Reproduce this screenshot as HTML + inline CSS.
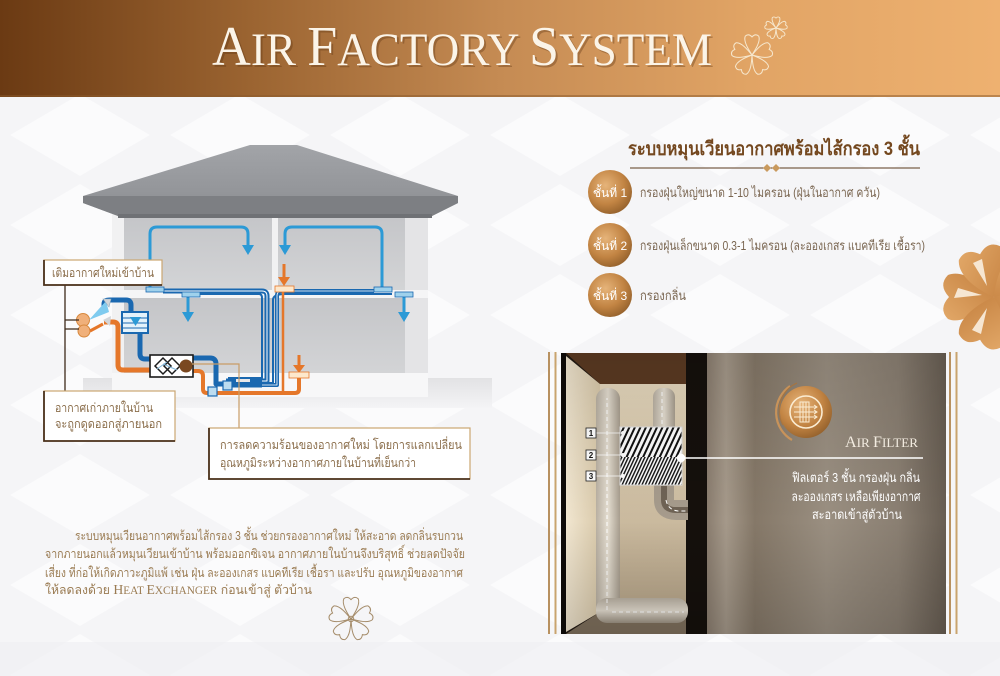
<!DOCTYPE html>
<html><head><meta charset="utf-8"><style>
html,body{margin:0;padding:0;background:#f6f6f8;}
svg{display:block;}
.th{font-family:"Liberation Sans","DejaVu Sans","Noto Sans CJK SC",sans-serif;}
.sf{font-family:"Liberation Serif","DejaVu Serif",serif;}
</style></head><body>
<svg width="1000" height="676" viewBox="0 0 1000 676" xmlns="http://www.w3.org/2000/svg">
<defs>
<linearGradient id="hdr" x1="0" x2="1" y1="0" y2="0">
<stop offset="0" stop-color="#6b3a13"/><stop offset="0.25" stop-color="#9b6431"/>
<stop offset="0.5" stop-color="#c58b53"/><stop offset="0.75" stop-color="#e1a465"/>
<stop offset="1" stop-color="#eeb170"/></linearGradient>
<linearGradient id="roof" x1="0" x2="0" y1="0" y2="1"><stop offset="0" stop-color="#a2a4a8"/><stop offset="1" stop-color="#8c8e92"/></linearGradient>
<linearGradient id="room" x1="0" x2="0" y1="0" y2="1"><stop offset="0" stop-color="#c4c5c8"/><stop offset="1" stop-color="#d3d4d6"/></linearGradient>
<linearGradient id="ground" x1="0" x2="0" y1="0" y2="1"><stop offset="0" stop-color="#e2e2e4"/><stop offset="1" stop-color="#f4f4f6"/></linearGradient>
<radialGradient id="gold" cx="0.4" cy="0.35" r="0.7"><stop offset="0" stop-color="#e6b47a"/><stop offset="0.6" stop-color="#c28443"/><stop offset="1" stop-color="#93602b"/></radialGradient>
<linearGradient id="flw" x1="0" x2="1" y1="0" y2="1"><stop offset="0" stop-color="#e2a868"/><stop offset="1" stop-color="#c4803f"/></linearGradient>
<linearGradient id="photoR" x1="0" x2="1" y1="0" y2="0">
<stop offset="0" stop-color="#8a7d6f"/><stop offset="0.08" stop-color="#a5998a"/><stop offset="0.2" stop-color="#857868"/>
<stop offset="0.5" stop-color="#9a8f81"/><stop offset="0.8" stop-color="#8a7f72"/><stop offset="1" stop-color="#675d52"/></linearGradient>
<linearGradient id="photoV" x1="0" x2="0" y1="0" y2="1"><stop offset="0" stop-color="#000" stop-opacity="0.1"/><stop offset="0.6" stop-color="#000" stop-opacity="0"/><stop offset="1" stop-color="#000" stop-opacity="0.15"/></linearGradient>
<linearGradient id="lwall" x1="0" x2="1"><stop offset="0" stop-color="#f1e6d0"/><stop offset="1" stop-color="#d9c9aa"/></linearGradient>
<linearGradient id="bwall" x1="0" x2="0" y1="0" y2="1"><stop offset="0" stop-color="#e6d8bd"/><stop offset="1" stop-color="#b8a68a"/></linearGradient>
<linearGradient id="pipe" x1="0" x2="1"><stop offset="0" stop-color="#b9b0a2"/><stop offset="0.5" stop-color="#e4ddd0"/><stop offset="1" stop-color="#a79d8e"/></linearGradient>
<linearGradient id="pipeH" x1="0" x2="0" y1="0" y2="1"><stop offset="0" stop-color="#b9b0a2"/><stop offset="0.5" stop-color="#e4ddd0"/><stop offset="1" stop-color="#9d9384"/></linearGradient>
<pattern id="stA" width="5" height="5" patternUnits="userSpaceOnUse" patternTransform="rotate(25)"><rect width="5" height="5" fill="#fff"/><rect width="2" height="5" fill="#111"/></pattern>
<pattern id="stB" width="3" height="3" patternUnits="userSpaceOnUse" patternTransform="rotate(25)"><rect width="3" height="3" fill="#fff"/><rect width="1.4" height="3" fill="#111"/></pattern>
<pattern id="bgp" width="160" height="90" patternUnits="userSpaceOnUse"><rect width="160" height="90" fill="#f5f5f7"/><polygon points="80,4 150,45 80,86 10,45" fill="#fbfbfc"/></pattern>
<clipPath id="pc"><rect x="561" y="353" width="385" height="281"/></clipPath>
<path id="petal" d="M0,0 C-9,-14 -21,-33 -16,-45 Q-8,-52 0,-43 Q8,-52 16,-45 C21,-33 9,-14 0,0 Z"/>
<path id="petal2" d="M0,0 C-14,-12 -28,-32 -22,-46 Q-12,-56 0,-45 Q12,-56 22,-46 C28,-32 14,-12 0,0 Z"/>
</defs>

<!-- background -->
<rect x="0" y="0" width="1000" height="676" fill="url(#bgp)"/>
<rect x="0" y="642" width="1000" height="34" fill="#efeff1" opacity="0.6"/>

<!-- header -->
<rect x="0" y="0" width="1000" height="97" fill="url(#hdr)"/>
<rect x="0" y="95" width="1000" height="2" fill="#8a5a2c" opacity="0.5"/>
<text class="sf" x="214" y="67" fill="#5a3210" opacity="0.35" textLength="500" lengthAdjust="spacingAndGlyphs"><tspan font-size="56">A</tspan><tspan font-size="47">IR </tspan><tspan font-size="56">F</tspan><tspan font-size="47">ACTORY </tspan><tspan font-size="56">S</tspan><tspan font-size="47">YSTEM</tspan></text>
<text class="sf" x="212" y="65" fill="#fbf4e8" textLength="500" lengthAdjust="spacingAndGlyphs"><tspan font-size="56">A</tspan><tspan font-size="47">IR </tspan><tspan font-size="56">F</tspan><tspan font-size="47">ACTORY </tspan><tspan font-size="56">S</tspan><tspan font-size="47">YSTEM</tspan></text>
<g transform="translate(752,55) scale(0.42)" fill="none" stroke="#f6e7cd" stroke-width="2.4">
<use href="#petal"/><use href="#petal" transform="rotate(72)"/><use href="#petal" transform="rotate(144)"/><use href="#petal" transform="rotate(216)"/><use href="#petal" transform="rotate(288)"/></g>
<g transform="translate(776,28) scale(0.23)" fill="none" stroke="#f6e7cd" stroke-width="4">
<use href="#petal"/><use href="#petal" transform="rotate(72)"/><use href="#petal" transform="rotate(144)"/><use href="#petal" transform="rotate(216)"/><use href="#petal" transform="rotate(288)"/></g>

<!-- ===== HOUSE ===== -->
<polygon points="83,378 492,378 492,408 83,408" fill="url(#ground)"/>
<rect x="112" y="212" width="316" height="185" fill="#f1f1f2"/>
<rect x="405" y="218" width="23" height="178" fill="#e4e4e6"/>
<rect x="124" y="214" width="148" height="76" fill="url(#room)"/>
<rect x="278" y="214" width="127" height="76" fill="url(#room)"/>
<rect x="112" y="290" width="316" height="8" fill="#f5f5f6"/>
<rect x="124" y="298" width="281" height="75" fill="url(#room)"/>
<rect x="112" y="373" width="316" height="24" fill="#f7f7f8"/>
<polygon points="250,145 297,145 458,196 458,203 432,216 118,216 83,203 83,196" fill="url(#roof)"/>
<polygon points="83,196 458,196 458,203 432,216 118,216 83,203" fill="#7d7f83"/>
<rect x="118" y="214" width="314" height="4" fill="#6f7175"/>

<!-- blue air loops -->
<g fill="none" stroke="#2c9ad6" stroke-width="3">
<path d="M150,288 V234 Q150,227 157,227 H241 Q248,227 248,234 V246"/>
<path d="M382,288 V234 Q382,227 375,227 H292 Q285,227 285,234 V246"/>
<path d="M188,297 V313"/><path d="M404,297 V313"/>
</g>
<g fill="#2c9ad6">
<polygon points="242,245 254,245 248,255"/><polygon points="279,245 291,245 285,255"/>
<polygon points="182,312 194,312 188,322"/><polygon points="398,312 410,312 404,322"/>
</g>

<!-- blue ducts -->
<g fill="none" stroke-linejoin="round">
<path d="M163,291 H262 Q267,291 267,296 V381 H226" stroke="#1a68b0" stroke-width="5"/>
<path d="M200,294 H259 Q262,294 262,298 V378 H228" stroke="#1a68b0" stroke-width="2"/>
<path d="M163,291 H262 Q267,291 267,296 V381 H226" stroke="#ffffff" stroke-width="1"/>
<path d="M374,291 H282 Q277,291 277,296 V385 H226" stroke="#1a68b0" stroke-width="4"/>
<path d="M392,294 H285 Q273,294 273,300 V383 H226" stroke="#1a68b0" stroke-width="2"/>
<path d="M374,291 H282 Q277,291 277,296 V385 H226" stroke="#ffffff" stroke-width="0.8"/>
<path d="M226,384 H262" stroke="#1a68b0" stroke-width="7"/>
<path d="M104,306 V304 Q104,300 110,300 H126 Q131,300 131,305 V313" stroke="#1a68b0" stroke-width="5"/>
<path d="M140,333 V354 Q140,359 145,359 H151" stroke="#1a68b0" stroke-width="5"/>
<path d="M193,358 H210 Q216,358 216,364 V384 H226" stroke="#1a68b0" stroke-width="5"/>
</g>
<!-- orange ducts -->
<g fill="none" stroke="#e5772a" stroke-linejoin="round">
<path d="M104,322 H113 Q118,322 118,327 V365 Q118,370 123,370 H151" stroke-width="5"/>
<path d="M193,371 H198 Q203,371 203,376 V389 Q203,393 207,393 H295 Q299,393 299,389 V378" stroke-width="4"/>
<path d="M283,292 V392" stroke-width="2.5"/>
</g>
<!-- orange arrows and vents -->
<path d="M284,264 V279" stroke="#e5772a" stroke-width="3"/>
<polygon points="278,277 290,277 284,286" fill="#e5772a"/>
<path d="M299,355 V367" stroke="#e5772a" stroke-width="3"/>
<polygon points="293,365 305,365 299,373" fill="#e5772a"/>
<rect x="275" y="286" width="19" height="6" fill="#fde8cc" stroke="#e5772a" stroke-width="0.8"/>
<rect x="289" y="372" width="20" height="6" fill="#fde8cc" stroke="#e5772a" stroke-width="0.8"/>
<!-- blue vents -->
<g fill="#9fd1ec" stroke="#1a68b0" stroke-width="0.8">
<rect x="146" y="287" width="18" height="5"/><rect x="182" y="292" width="18" height="5"/>
<rect x="374" y="287" width="18" height="5"/><rect x="395" y="292" width="18" height="5"/>
</g>
<!-- hood -->
<circle cx="83" cy="320" r="6.5" fill="#f0b07a" stroke="#d8893e" stroke-width="1"/>
<circle cx="84" cy="331" r="6" fill="#f0b07a" stroke="#d8893e" stroke-width="1"/>
<polygon points="89,320 106,301 109,312" fill="#7fcbef"/>
<polygon points="103,299 111,299 109,307" fill="#d3d6d9" stroke="#8da9be" stroke-width="0.6"/>
<polygon points="103,320 111,316 110,326" fill="#d3d6d9"/>
<path d="M90,331 L103,324" stroke="#e5772a" stroke-width="3"/>
<!-- filter box -->
<rect x="122" y="312" width="26" height="21" fill="#e4f2fb" stroke="#1a68b0" stroke-width="2"/>
<g stroke="#1a68b0" stroke-width="1"><path d="M123,318 H147 M123,323 H147 M123,328 H147"/></g>
<polygon points="130,317 141,317 135.5,326" fill="#2c9ad6"/>
<!-- heat exchanger -->
<rect x="150" y="355" width="43" height="22" fill="#fff" stroke="#1b1b1b" stroke-width="1.6"/>
<polygon points="155,366 163,358 171,366 163,374" fill="none" stroke="#1b1b1b" stroke-width="1.5"/>
<polygon points="164,366 172,358 180,366 172,374" fill="none" stroke="#1b1b1b" stroke-width="1.5"/>
<path d="M157,369 L167,362 M163,364 L177,370" stroke="#7fb5da" stroke-width="1"/>
<circle cx="186" cy="366" r="6.5" fill="#7a4820"/>
<rect x="208" y="387" width="9" height="9" fill="#bcdcf0" stroke="#1a68b0" stroke-width="1.2"/>
<rect x="223" y="381" width="9" height="9" fill="#bcdcf0" stroke="#1a68b0" stroke-width="1.2"/>
<rect x="236" y="379" width="14" height="3" fill="#e8e8ea"/>

<!-- connectors -->
<path d="M192,364 H239 V428" fill="none" stroke="#c99d66" stroke-width="1.2"/>
<path d="M65,285 V391 M65,320 H79 M65,329 H79" fill="none" stroke="#3d2a1a" stroke-width="1.3"/>

<!-- label boxes -->
<g>
<rect x="44" y="260" width="118" height="25" fill="#fff" stroke="#caa672" stroke-width="1.2"/>
<path d="M44,260 V285 H162" fill="none" stroke="#4a311c" stroke-width="1.8"/>
<text class="th" x="52" y="277" font-size="12.5" fill="#8a6d4a" textLength="102" lengthAdjust="spacingAndGlyphs">เติมอากาศใหม่เข้าบ้าน</text>
<rect x="44" y="391" width="131" height="50" fill="#fff" stroke="#caa672" stroke-width="1.2"/>
<path d="M44,391 V441 H175" fill="none" stroke="#4a311c" stroke-width="1.8"/>
<text class="th" x="55" y="412" font-size="12.5" fill="#8a6d4a" textLength="98" lengthAdjust="spacingAndGlyphs">อากาศเก่าภายในบ้าน</text>
<text class="th" x="55" y="428" font-size="12.5" fill="#8a6d4a" textLength="107" lengthAdjust="spacingAndGlyphs">จะถูกดูดออกสู่ภายนอก</text>
<rect x="209" y="428" width="261" height="51" fill="#fff" stroke="#caa672" stroke-width="1.2"/>
<path d="M209,428 V479 H470" fill="none" stroke="#4a311c" stroke-width="1.8"/>
<text class="th" x="220" y="449" font-size="12.5" fill="#8a6d4a" textLength="242" lengthAdjust="spacingAndGlyphs">การลดความร้อนของอากาศใหม่ โดยการแลกเปลี่ยน</text>
<text class="th" x="220" y="467" font-size="12.5" fill="#8a6d4a" textLength="196" lengthAdjust="spacingAndGlyphs">อุณหภูมิระหว่างอากาศภายในบ้านที่เย็นกว่า</text>
</g>

<!-- bottom paragraph -->
<g class="th" font-size="12.5" fill="#9a7b52">
<text x="75" y="540" textLength="388" lengthAdjust="spacingAndGlyphs">ระบบหมุนเวียนอากาศพร้อมไส้กรอง 3 ชั้น ช่วยกรองอากาศใหม่ ให้สะอาด ลดกลิ่นรบกวน</text>
<text x="45" y="558" textLength="420" lengthAdjust="spacingAndGlyphs">จากภายนอกแล้วหมุนเวียนเข้าบ้าน พร้อมออกซิเจน อากาศภายในบ้านจึงบริสุทธิ์ ช่วยลดปัจจัย</text>
<text x="45" y="577" textLength="418" lengthAdjust="spacingAndGlyphs">เสี่ยง ที่ก่อให้เกิดภาวะภูมิแพ้ เช่น ฝุ่น ละอองเกสร แบคทีเรีย เชื้อรา และปรับ อุณหภูมิของอากาศ</text>
<text x="45" y="594" textLength="267" lengthAdjust="spacingAndGlyphs">ให้ลดลงด้วย <tspan class="sf" font-size="14">H</tspan><tspan class="sf" font-size="11.5">EAT </tspan><tspan class="sf" font-size="14">E</tspan><tspan class="sf" font-size="11.5">XCHANGER</tspan> ก่อนเข้าสู่ ตัวบ้าน</text>
</g>
<g transform="translate(351,619) scale(0.45)" fill="none" stroke="#a58c6a" stroke-width="2.2">
<use href="#petal"/><use href="#petal" transform="rotate(72)"/><use href="#petal" transform="rotate(144)"/><use href="#petal" transform="rotate(216)"/><use href="#petal" transform="rotate(288)"/>
<circle r="6"/></g>

<!-- ===== RIGHT TOP ===== -->
<text class="th" x="628" y="155" font-size="19" font-weight="bold" fill="#74481f" textLength="292" lengthAdjust="spacingAndGlyphs">ระบบหมุนเวียนอากาศพร้อมไส้กรอง 3 ชั้น</text>
<line x1="630" y1="168" x2="920" y2="168" stroke="#5a3a1e" stroke-width="1"/>
<polygon points="763,168 767,164 771,168 767,172" fill="#c99a5e"/>
<polygon points="772,168 776,164 780,168 776,172" fill="#c99a5e"/>
<g>
<circle cx="610" cy="192" r="22" fill="url(#gold)"/>
<circle cx="610" cy="245" r="22" fill="url(#gold)"/>
<circle cx="610" cy="295" r="22" fill="url(#gold)"/>
<g class="th" font-size="12" fill="#fff" text-anchor="middle">
<text x="610" y="197">ชั้นที่ 1</text><text x="610" y="250">ชั้นที่ 2</text><text x="610" y="300">ชั้นที่ 3</text></g>
<g class="th" font-size="13" fill="#7a6651">
<text x="640" y="197" textLength="240" lengthAdjust="spacingAndGlyphs">กรองฝุ่นใหญ่ขนาด 1-10 ไมครอน (ฝุ่นในอากาศ ควัน)</text>
<text x="640" y="250" textLength="285" lengthAdjust="spacingAndGlyphs">กรองฝุ่นเล็กขนาด 0.3-1 ไมครอน (ละอองเกสร แบคทีเรีย เชื้อรา)</text>
<text x="640" y="300" textLength="46" lengthAdjust="spacingAndGlyphs">กรองกลิ่น</text></g>
</g>
<!-- big flower -->
<g transform="translate(994,297)" fill="url(#flw)">
<use href="#petal2" transform="rotate(-90)"/><use href="#petal2" transform="rotate(-18)"/><use href="#petal2" transform="rotate(54)"/><use href="#petal2" transform="rotate(126)"/><use href="#petal2" transform="rotate(198)"/>
<g fill="#f6e6d2"><path d="M-12,-2 L-36,-9 L-40,1 Z"/><path d="M-7,11 L-22,33 L-13,37 Z"/><path d="M-7,-11 L-21,-34 L-12,-38 Z"/></g>
</g>

<!-- ===== PHOTO ===== -->
<rect x="548" y="352" width="2" height="282" fill="#b89160"/>
<rect x="554.5" y="352" width="2" height="282" fill="#c9a46e"/>
<rect x="949" y="352" width="2" height="282" fill="#b89160"/>
<rect x="955.5" y="352" width="2" height="282" fill="#c9a46e"/>
<g clip-path="url(#pc)">
<rect x="561" y="353" width="146" height="281" fill="#231a13"/>
<polygon points="566,353 700,353 688,384 600,384" fill="#5b3a22"/>
<rect x="600" y="384" width="86" height="226" fill="url(#bwall)"/>
<polygon points="566,356 600,384 600,612 566,632" fill="url(#lwall)"/>
<polygon points="566,634 600,612 686,612 686,634" fill="#7f705d"/>
<rect x="686" y="353" width="21" height="281" fill="#15100c"/>
<rect x="561" y="353" width="5" height="281" fill="#0e0b09"/>
<!-- pipes -->
<rect x="596" y="388" width="24" height="232" rx="11" fill="url(#pipe)"/>
<rect x="596" y="598" width="92" height="25" rx="11" fill="url(#pipeH)"/>
<rect x="653" y="388" width="22" height="48" rx="9" fill="url(#pipe)"/>
<path d="M664,480 V500 Q664,510 676,510 H688" fill="none" stroke="#a69b8c" stroke-width="20"/>
<path d="M664,486 V500 Q664,510 676,510 H688" fill="none" stroke="#4b3d30" stroke-width="6" opacity="0.6"/>
<g fill="none" stroke="#fff" stroke-width="1" stroke-dasharray="4,3">
<path d="M607,610 V398"/><path d="M612,612 H684"/><path d="M662,392 V430"/><path d="M666,500 Q668,510 678,511 H688"/></g>
<!-- filter -->
<rect x="620" y="427" width="62" height="30" fill="url(#stA)"/>
<rect x="620" y="457" width="62" height="28" fill="url(#stB)"/>
<rect x="620" y="427" width="62" height="58" fill="none" stroke="#ddd" stroke-width="1"/>
<g stroke="#fff" stroke-width="0.8"><path d="M596,433 H623 M596,455 H623 M596,476 H623"/></g>
<g fill="#fff"><circle cx="623" cy="433" r="2"/><circle cx="623" cy="455" r="2"/><circle cx="623" cy="476" r="2"/></g>
<g>
<rect x="586" y="428" width="10" height="10" fill="#fff" stroke="#222" stroke-width="0.8"/>
<rect x="586" y="450" width="10" height="10" fill="#fff" stroke="#222" stroke-width="0.8"/>
<rect x="586" y="471" width="10" height="10" fill="#fff" stroke="#222" stroke-width="0.8"/>
<g font-family="Liberation Sans,sans-serif" font-size="8" font-weight="bold" fill="#111" text-anchor="middle">
<text x="591" y="436">1</text><text x="591" y="458">2</text><text x="591" y="479">3</text></g>
</g>
<!-- right side -->
<rect x="707" y="353" width="239" height="281" fill="url(#photoR)"/>
<rect x="707" y="353" width="239" height="281" fill="url(#photoV)"/>
<rect x="561" y="353" width="146" height="281" fill="url(#photoV)"/>
<!-- icon -->
<path d="M790,386 A32,32 0 0 0 792,440" fill="none" stroke="#c8935a" stroke-width="2.2"/>
<path d="M797,383 A30,30 0 0 0 783,425" fill="none" stroke="#a8743e" stroke-width="1.2"/>
<circle cx="806" cy="412" r="26" fill="url(#gold)"/>
<circle cx="806" cy="412" r="16" fill="none" stroke="#fbecd2" stroke-width="1.6"/>
<g stroke="#fbecd2" stroke-width="1" fill="none">
<rect x="800" y="402" width="9" height="20"/><path d="M803,402 V422 M806,402 V422"/>
<path d="M794,407 H817 M794,412 H817 M794,417 H817"/>
<path d="M814,405 L817,407 L814,409 M814,410 L817,412 L814,414 M814,415 L817,417 L814,419"/></g>
<text class="sf" x="845" y="447" fill="#f3ece1" textLength="73" lengthAdjust="spacingAndGlyphs"><tspan font-size="16">A</tspan><tspan font-size="13">IR </tspan><tspan font-size="16">F</tspan><tspan font-size="13">ILTER</tspan></text>
<circle cx="681" cy="458" r="4.2" fill="#fff"/>
<line x1="681" y1="458" x2="923" y2="458" stroke="#fff" stroke-width="1.5"/>
<g class="th" font-size="13" fill="#fff" text-anchor="middle">
<text x="856" y="482" textLength="128" lengthAdjust="spacingAndGlyphs">ฟิลเตอร์ 3 ชั้น กรองฝุ่น กลิ่น</text>
<text x="856" y="501" textLength="129" lengthAdjust="spacingAndGlyphs">ละอองเกสร เหลือเพียงอากาศ</text>
<text x="857" y="519" textLength="90" lengthAdjust="spacingAndGlyphs">สะอาดเข้าสู่ตัวบ้าน</text>
</g>
</g>
</svg>
</body></html>
